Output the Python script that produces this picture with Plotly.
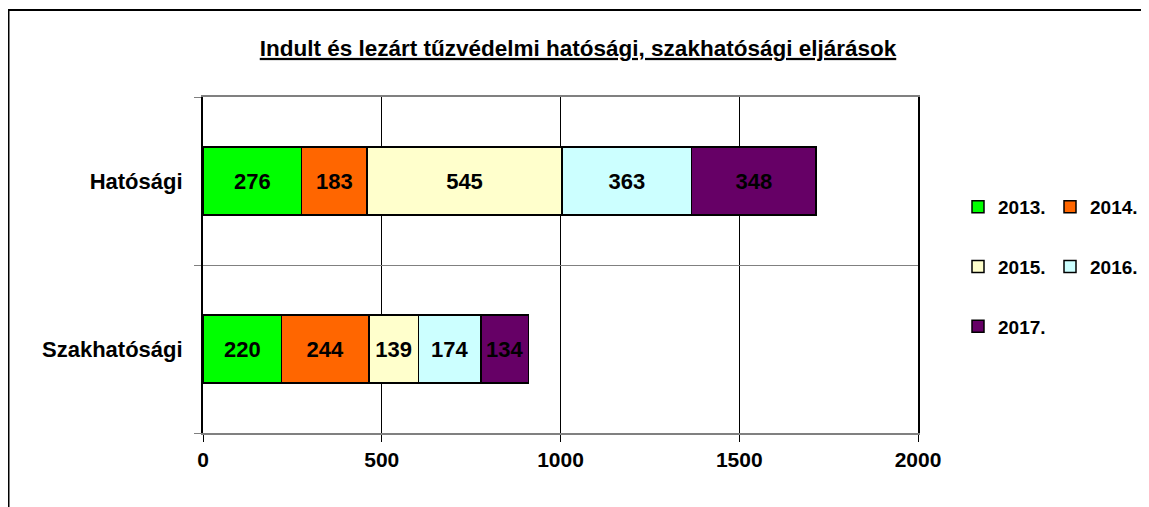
import plotly.graph_objects as go

categories = ["Szakhatósági", "Hatósági"]
years = ["2013.", "2014.", "2015.", "2016.", "2017."]
values = {
    "2013.": [220, 276],
    "2014.": [244, 183],
    "2015.": [139, 545],
    "2016.": [174, 363],
    "2017.": [134, 348],
}
colors = {
    "2013.": "#00FF00",
    "2014.": "#FF6600",
    "2015.": "#FFFFCC",
    "2016.": "#CCFFFF",
    "2017.": "#660066",
}
legend_of = {"2013.": "legend", "2014.": "legend2", "2015.": "legend",
             "2016.": "legend2", "2017.": "legend"}
title_text = "Indult és lezárt tűzvédelmi hatósági, szakhatósági eljárások"

FONT = "Liberation Sans, Arial, sans-serif"

fig = go.Figure()
for y in years:
    fig.add_trace(go.Bar(
        y=categories, x=values[y], name=y, orientation="h",
        marker=dict(color=colors[y], line=dict(color="black", width=1.5)),
        width=0.405,
        text=[str(v) for v in values[y]],
        textposition="inside", insidetextanchor="middle", textangle=0,
        constraintext="none",
        textfont=dict(family=FONT, size=22, color="black", weight="bold"),
        legend=legend_of[y], legendgroup=y,
        hoverinfo="x+y+name",
    ))

W, H = 1149, 507
L, R, T, B = 195, 910, 89, 425

legend_common = dict(
    orientation="v", xanchor="left", yanchor="top",
    font=dict(family=FONT, size=19, color="black", weight="bold"),
    bgcolor="rgba(0,0,0,0)", tracegroupgap=32, itemwidth=30,
)

fig.update_layout(
    width=W, height=H,
    margin=dict(l=L, r=W - R, t=T, b=H - B, pad=0),
    plot_bgcolor="white", paper_bgcolor="white",
    barmode="stack", bargap=0.6,
    title=dict(
        text="<u><b>" + title_text + "</b></u>",
        x=570 / W, xanchor="center", y=1 - 40 / H, yanchor="middle",
        font=dict(family=FONT, size=22.5, color="black"),
    ),
    xaxis=dict(
        range=[0, 2000], dtick=500, tick0=0,
        showgrid=True, gridcolor="black", gridwidth=1,
        showline=True, linecolor="#808080", linewidth=2, mirror=True,
        ticks="outside", ticklen=7, tickcolor="black", tickwidth=1,
        tickfont=dict(family=FONT, size=21, color="black", weight="bold"),
        zeroline=False, fixedrange=True,
    ),
    yaxis=dict(
        type="category", categoryorder="array", categoryarray=categories,
        tickson="boundaries", ticks="outside", ticklen=7, tickcolor="#808080",
        showgrid=True, gridcolor="#808080", gridwidth=1,
        showline=True, linecolor="black", linewidth=2, mirror=True,
        tickfont=dict(family=FONT, size=22, color="black", weight="bold"),
        ticklabelstandoff=14, fixedrange=True,
    ),
    legend=dict(x=(950 - L) / (R - L), y=(B - 180) / (B - T), **legend_common),
    legend2=dict(x=(1042 - L) / (R - L), y=(B - 180) / (B - T), **legend_common),
    shapes=[dict(type="rect", xref="paper", yref="paper",
                 x0=(0.5 - L) / (R - L), x1=3, y0=-3, y1=(B - 2) / (B - T),
                 line=dict(color="black", width=2), fillcolor="rgba(0,0,0,0)",
                 layer="above")],
)

fig.write_html("out.html")
